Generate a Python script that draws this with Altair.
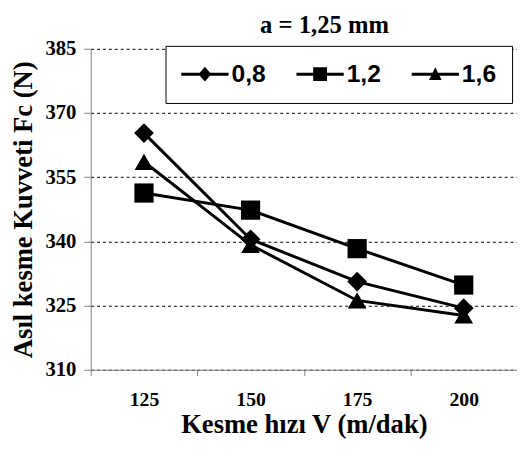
import altair as alt
import pandas as pd

speeds = ["125", "150", "175", "200"]
series_names = ["0,8", "1,2", "1,6"]
fc_08 = [365.3, 340.5, 330.6, 324.4]
fc_12 = [351.3, 347.3, 338.3, 329.8]
fc_16 = [358.6, 339.2, 326.2, 322.7]
y_ticks = [310, 325, 340, 355, 370, 385]

rows = []
for name, vals in zip(series_names, [fc_08, fc_12, fc_16]):
    for s, v in zip(speeds, vals):
        rows.append({"V": s, "Fc": v, "seri": name})
df = pd.DataFrame(rows)

SERIF = "Liberation Serif"
SANS = "Liberation Sans"

# legend symbols: a line with the marker on it (unit = 12.5 px)
diamond_leg = ("M-1,-0.12H0.504L0.92,-0.6L1.336,-0.12H2.84V0.12H1.336"
               "L0.92,0.6L0.504,0.12H-1Z")
square_leg = ("M-1,-0.12H0.36V-0.56H1.48V-0.12H2.84V0.12H1.48V0.56"
              "H0.36V0.12H-1Z")
tri_leg = ("M-1,-0.12H0.70L0.92,-0.56L1.14,-0.12H2.84V0.12H1.26L1.44,0.48"
           "H0.40L0.58,0.12H-1Z")

x_enc = alt.X("V:O", sort=speeds,
              scale=alt.Scale(type="band", paddingInner=0, paddingOuter=0),
              axis=alt.Axis(title="Kesme hızı V (m/dak)", labelAngle=0, tickBand="extent",
                            labelFont=SERIF, labelFontWeight="bold", labelFontSize=20,
                            labelColor="black", labelPadding=14,
                            titleFont=SERIF, titleFontWeight="bold", titleFontSize=27,
                            titleColor="black", titlePadding=3,
                            domainColor="#808080", tickColor="#808080", tickSize=6,
                            grid=False))
y_enc = alt.Y("Fc:Q",
              scale=alt.Scale(domain=[310, 385], nice=False, zero=False),
              axis=alt.Axis(title="Asıl kesme Kuvveti Fc (N)", values=y_ticks, format="d",
                            labelFont=SERIF, labelFontWeight="bold", labelFontSize=21,
                            labelColor="black", labelPadding=8,
                            titleFont=SERIF, titleFontWeight="bold", titleFontSize=27,
                            titleColor="black", titlePadding=8,
                            domainColor="#808080", tickColor="#808080", tickSize=7,
                            grid=True, gridColor="black", gridDash=[3, 3], gridWidth=1))

base = alt.Chart(df)

lines = base.mark_line(color="black", strokeWidth=3).encode(
    x=x_enc, y=y_enc, detail="seri:N")

points = base.mark_point(filled=True, color="black", opacity=1).encode(
    x=x_enc, y=y_enc,
    shape=alt.Shape("seri:N", scale=alt.Scale(domain=series_names,
                                              range=["diamond", "square", "triangle-up"]),
                    legend=None),
    size=alt.Size("seri:N", scale=alt.Scale(domain=series_names, range=[400, 361, 220]),
                  legend=None),
)

legend_layer = base.mark_point(filled=True, color="black", opacity=0, size=10).encode(
    x=x_enc, y=y_enc,
    shape=alt.Shape("seri:N", scale=alt.Scale(domain=series_names,
                                              range=[diamond_leg, square_leg, tri_leg]),
                    legend=alt.Legend(title=None, orient="none", legendX=76, legendY=-3,
                                      direction="horizontal", columns=3,
                                      symbolSize=625, symbolOpacity=1,
                                      symbolFillColor="black", symbolStrokeWidth=0,
                                      labelFont=SANS, labelFontWeight="bold",
                                      labelFontSize=25, labelColor="black",
                                      labelOffset=26, columnPadding=31,
                                      padding=16, strokeColor="black",
                                      fillColor="white")),
)

chart = alt.layer(lines, points, legend_layer).resolve_scale(
    shape="independent", size="independent"
).properties(
    width=433, height=326,
    title=alt.TitleParams("a = 1,25 mm", font=SERIF, fontWeight="bold", fontSize=25,
                          color="black", dx=21, offset=0, frame="group"),
    autosize=alt.AutoSizeParams(type="none"),
    padding={"left": 84, "top": 38, "right": 0, "bottom": 75},
).configure_view(stroke=None)

chart.save("out.html", embed_options={"renderer": "svg", "actions": False})
